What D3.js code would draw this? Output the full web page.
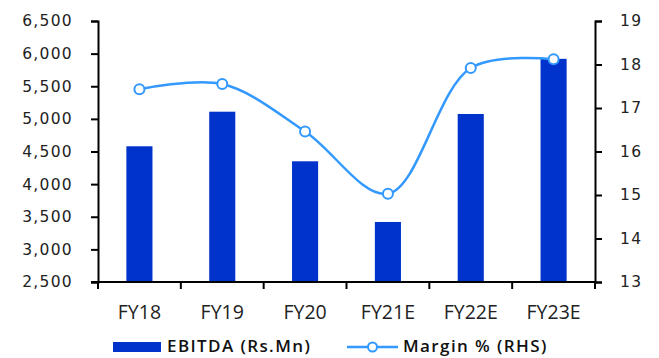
<!DOCTYPE html>
<html>
<head>
<meta charset="utf-8">
<script src="https://cdn.jsdelivr.net/npm/d3@7"></script>
<style>
  html, body { margin: 0; padding: 0; background: #fff; }
  svg { display: block; }
</style>
</head>
<body>
<svg id="chart" width="659" height="358"></svg>
<script>
// EBITDA (bars, left axis) and margin % (smoothed line, right axis)
const categories = ["FY18", "FY19", "FY20", "FY21E", "FY22E", "FY23E"];
const ebitda = [4580, 5110, 4350, 3420, 5075, 5920];
const margin = [17.43, 17.55, 16.46, 15.03, 17.92, 18.12];
const leftTicks = [2500, 3000, 3500, 4000, 4500, 5000, 5500, 6000, 6500];
const rightTicks = [13, 14, 15, 16, 17, 18, 19];
const seriesNames = ["EBITDA (Rs.Mn)", "Margin % (RHS)"];

const barColor = "#0033CC";
const lineColor = "#3399FF";

const svg = d3.select("#chart");
const plot = { left: 98, right: 595, top: 21, bottom: 282 };

const x = d3.scaleBand()
  .domain(categories)
  .range([plot.left, plot.right])
  .paddingInner(0.685)
  .paddingOuter(0.3425);

const yL = d3.scaleLinear().domain([2500, 6500]).range([plot.bottom, plot.top]);
const yR = d3.scaleLinear().domain([13, 19]).range([plot.bottom, plot.top]);

const numFont = "'DejaVu Sans', Verdana, sans-serif";
const catFont = "'Open Sans', 'Noto Sans', sans-serif";

// Bars
svg.append("g").selectAll("rect")
  .data(categories)
  .join("rect")
  .attr("x", d => x(d))
  .attr("width", x.bandwidth())
  .attr("y", (d, i) => yL(ebitda[i]))
  .attr("height", (d, i) => plot.bottom - yL(ebitda[i]))
  .attr("fill", barColor);

// Left axis
const axL = svg.append("g")
  .attr("transform", `translate(${plot.left},0)`)
  .call(d3.axisLeft(yL).tickValues(leftTicks).tickSize(7).tickPadding(18)
    .tickFormat(d3.format(",")));
axL.select(".domain").attr("stroke", "#000").attr("stroke-width", 2);
axL.selectAll(".tick line").attr("stroke", "#000").attr("stroke-width", 2);
axL.selectAll("text")
  .attr("font-family", numFont).attr("font-size", 15.5)
  .attr("letter-spacing", 1.3).attr("fill", "#222");

// Right axis
const axR = svg.append("g")
  .attr("transform", `translate(${plot.right},0)`)
  .call(d3.axisRight(yR).tickValues(rightTicks).tickSize(7).tickPadding(18)
    .tickFormat(d3.format("d")));
axR.select(".domain").attr("stroke", "#000").attr("stroke-width", 2);
axR.selectAll(".tick line").attr("stroke", "#000").attr("stroke-width", 2);
axR.selectAll("text")
  .attr("font-family", numFont).attr("font-size", 15.5)
  .attr("letter-spacing", 1.3).attr("fill", "#222");

// Category axis: ticks at band boundaries, labels centred under bars
const xAxis = svg.append("g").attr("transform", `translate(0,${plot.bottom})`);
xAxis.append("line")
  .attr("x1", plot.left - 7).attr("x2", plot.right)
  .attr("stroke", "#000").attr("stroke-width", 2);
const step = x.step();
const boundaries = d3.range(categories.length + 1).map(i => plot.left + i * step);
xAxis.selectAll("line.tk")
  .data(boundaries)
  .join("line")
  .attr("class", "tk")
  .attr("x1", d => d).attr("x2", d => d)
  .attr("y1", 0).attr("y2", 7)
  .attr("stroke", "#000").attr("stroke-width", 2);
xAxis.selectAll("text")
  .data(categories)
  .join("text")
  .attr("x", d => x(d) + x.bandwidth() / 2)
  .attr("y", 37)
  .attr("text-anchor", "middle")
  .attr("font-family", catFont).attr("font-size", 19.5)
  .attr("fill", "#222")
  .text(d => d);

// Margin line
const pts = categories.map((c, i) => [x(c) + x.bandwidth() / 2, yR(margin[i])]);
svg.append("path")
  .datum(pts)
  .attr("d", d3.line().curve(d3.curveCatmullRom.alpha(0.5)))
  .attr("fill", "none")
  .attr("stroke", lineColor)
  .attr("stroke-width", 2.5);
svg.append("g").selectAll("circle")
  .data(pts)
  .join("circle")
  .attr("cx", d => d[0]).attr("cy", d => d[1])
  .attr("r", 5)
  .attr("fill", "#fff")
  .attr("stroke", lineColor)
  .attr("stroke-width", 2);

// Legend
const lg = svg.append("g").attr("font-family", catFont).attr("font-weight", 600)
  .attr("font-size", 17).attr("letter-spacing", 1.4).attr("fill", "#111");
lg.append("rect").attr("x", 113).attr("y", 342).attr("width", 48).attr("height", 10)
  .attr("fill", barColor);
lg.append("text").attr("x", 167).attr("y", 352).text(seriesNames[0]);
lg.append("line").attr("x1", 347).attr("x2", 398).attr("y1", 347).attr("y2", 347)
  .attr("stroke", lineColor).attr("stroke-width", 2.5);
lg.append("circle").attr("cx", 372.5).attr("cy", 347).attr("r", 4.5)
  .attr("fill", "#fff").attr("stroke", lineColor).attr("stroke-width", 2);
lg.append("text").attr("x", 403).attr("y", 352).text(seriesNames[1]);
</script>
</body>
</html>
